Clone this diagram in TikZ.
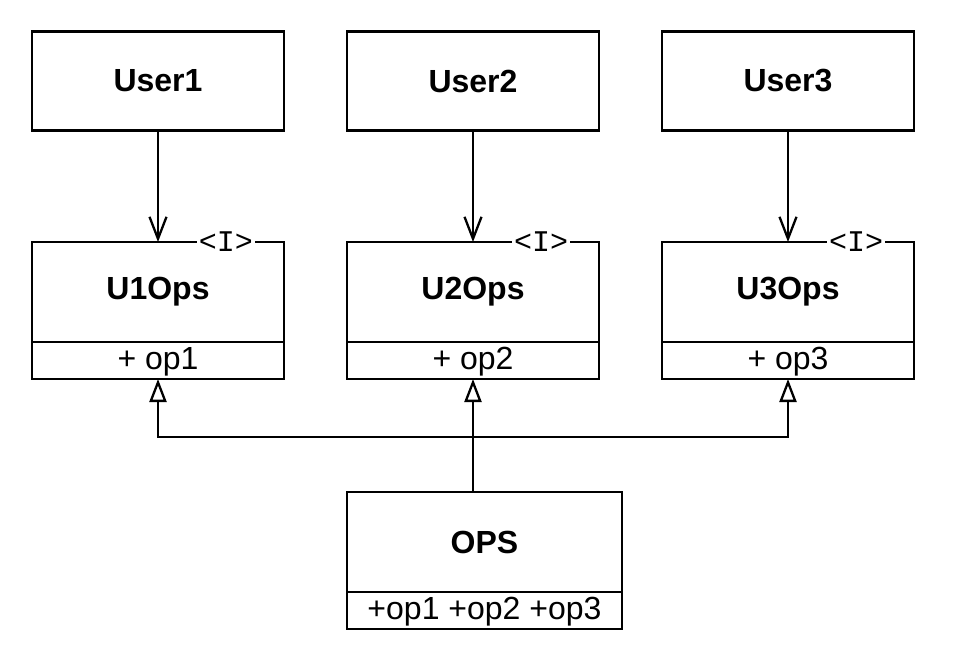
\documentclass[tikz,border=0pt]{standalone}
\usepackage{fontspec}
\setmainfont{Liberation Sans}
\setmonofont{Liberation Mono}
\usepackage{tikz}
\usetikzlibrary{calc,positioning,arrows.meta}
\tikzstyle{class name} = [rectangle,draw,outer sep=0pt,minimum width=252pt,minimum height=99pt,inner sep=1pt,font=\bfseries\fontsize{32}{36}\selectfont]
\tikzstyle{class ops}  = [rectangle,draw,outer sep=0pt,minimum width=252pt,minimum height=37pt,inner sep=1pt,text depth=4pt,font=\fontsize{32}{36}\selectfont]
\tikzstyle{iface mark} = [fill=white,inner sep=2pt,font=\ttfamily\fontsize{30}{30}\selectfont]
\tikzstyle{uses}       = [-{Straight Barb[length=22pt,width=17pt]}]
\tikzstyle{realizes}   = [-{Triangle[open,length=23pt,width=17pt]}]

\begin{document}
\begin{tikzpicture}[x=1pt,y=-1pt,line width=2.3pt]

    \useasboundingbox (0,0) rectangle (956,658);

    % Users
    \node(user1)[class name] at (158,81) {User1};
    \node(user2)[class name] at (473,81) {User2};
    \node(user3)[class name] at (788,81) {User3};

    % Interfaces of each user
    \node(u1name)[class name, minimum height=100pt] at (158,292) {U1Ops};
    \node(u1ops)[class ops, below=0pt of u1name] {+ op1};
    \node(u2name)[class name, minimum height=100pt] at (473,292) {U2Ops};
    \node(u2ops)[class ops, below=0pt of u2name] {+ op2};
    \node(u3name)[class name, minimum height=100pt] at (788,292) {U3Ops};
    \node(u3ops)[class ops, below=0pt of u3name] {+ op3};

    \node[iface mark] at ($(u1name.north east)+(-58,0)$) {<I>};
    \node[iface mark] at ($(u2name.north east)+(-58,0)$) {<I>};
    \node[iface mark] at ($(u3name.north east)+(-58,0)$) {<I>};

    % Implementation
    \node(opsname)[class name, minimum width=275pt, minimum height=100pt] at (484.5,542) {OPS};
    \node(opsops)[class ops, minimum width=275pt, below=0pt of opsname] {+op1 +op2 +op3};

    % User uses its interface
    \draw[uses] (user1) -- (u1name);
    \draw[uses] (user2) -- (u2name);
    \draw[uses] (user3) -- (u3name);

    % OPS realizes all interfaces
    \coordinate(bus) at ($(u2ops.south)+(0,58)$);
    \draw[realizes] (opsname.north -| u2ops.south) -- (u2ops);
    \draw[realizes] (bus) -| (u1ops);
    \draw[realizes] (bus) -| (u3ops);

\end{tikzpicture}
\end{document}
